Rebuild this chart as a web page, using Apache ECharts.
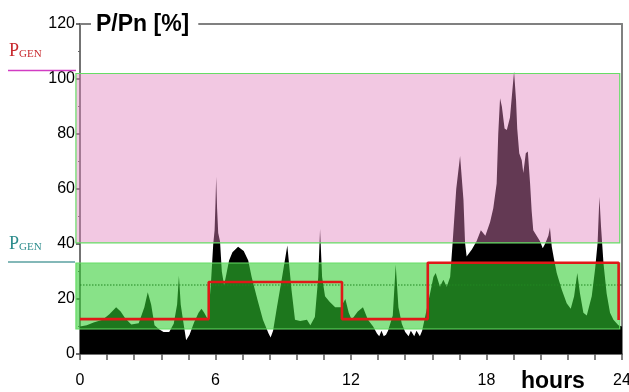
<!DOCTYPE html>
<html>
<head>
<meta charset="utf-8">
<script src="https://cdn.jsdelivr.net/npm/echarts@6/dist/echarts.min.js"></script>
<style>
  html, body { margin: 0; padding: 0; background: #fff; }
  #chart { width: 629px; height: 392px; }
</style>
</head>
<body>
<div id="chart"></div>
<script>
// Daily load profile, P/Pn in percent, sampled over 24 hours
const hours = [
  0.0, 0.3, 0.6, 1.0, 1.3, 1.6, 1.8, 2.0, 2.27, 2.6, 2.85, 3.0, 3.15, 3.3, 3.5, 3.7, 3.95,
  4.15, 4.3, 4.38, 4.46, 4.56, 4.7, 4.85, 5.05, 5.25, 5.38, 5.5, 5.67, 5.8, 5.9, 5.96, 6.0,
  6.03, 6.07, 6.12, 6.2, 6.28, 6.38, 6.48, 6.6, 6.75, 7.0, 7.25, 7.45, 7.6, 7.85, 8.1, 8.35,
  8.44, 8.55, 8.7, 8.95, 9.18, 9.37, 9.52, 9.75, 10.05, 10.2, 10.4, 10.55, 10.63, 10.72, 10.85,
  11.05, 11.3, 11.55, 11.75, 11.9, 12.03, 12.3, 12.53, 12.75, 12.98, 13.15, 13.25, 13.35, 13.45,
  13.55, 13.64, 13.85, 13.98, 14.1, 14.25, 14.4, 14.55, 14.65, 14.8, 14.9, 15.05, 15.15, 15.28,
  15.5, 15.65, 15.75, 15.94, 16.09, 16.24, 16.39, 16.5, 16.66, 16.83, 16.98, 17.05, 17.12, 17.35,
  17.56, 17.75, 17.95, 18.16, 18.3, 18.45, 18.52, 18.6, 18.68, 18.8, 18.9, 19.04, 19.12, 19.22,
  19.31, 19.36, 19.45, 19.56, 19.63, 19.74, 19.83, 19.93, 20.0, 20.07, 20.22, 20.37, 20.49,
  20.59, 20.74, 20.81, 20.89, 20.99, 21.11, 21.33, 21.55, 21.73, 21.88, 22.02, 22.14, 22.29,
  22.44, 22.66, 22.81, 22.92, 23.0, 23.07, 23.18, 23.32, 23.47, 23.62, 23.84, 24.0
];
const load = [
  10, 10.5, 11.5, 12.5, 14.5, 17, 15.5, 13, 10.7, 11.2, 17, 22.5, 18, 10.5, 9, 8, 8,
  11, 18, 28.5, 18, 12.5, 5, 7, 11.5, 15, 16.5, 15, 12.5, 26, 40, 45, 55,
  64.5, 53, 44, 41, 30, 25, 29, 34, 37, 39, 37.5, 34, 28, 20, 12.5, 7.5,
  6, 8.5, 16, 28, 39.5, 23, 12.5, 12, 12.5, 10.5, 13.5, 28, 45.5, 28, 21,
  19, 17, 17, 20, 15, 12.5, 15.5, 17, 12.5, 10, 7.5, 6.5, 8.5, 6.5,
  7, 8.5, 14, 32.5, 17, 11, 8, 6.5, 8.5, 6.5, 8.5, 6.5, 8.5, 13.5,
  22, 28, 29.5, 24.5, 27, 24.5, 28, 40.5, 60, 72, 56, 40.5, 35.5, 38,
  41, 45, 43, 48, 53, 62, 80, 93, 90, 82, 81.5, 86, 93.5, 102.7,
  92, 82, 73, 70.5, 65.8, 73, 73.6, 62, 52, 45, 43, 41, 38.5,
  40, 43, 46, 39, 34.5, 29.5, 23.5, 18.5, 16.5, 21, 29.5, 22, 15,
  14, 21, 31, 40.5, 57.2, 46.5, 33, 22, 15, 12.5, 10.5, 10
];

// Generator power schedule (step changes)
const stepHours = [0, 5.7, 11.6, 15.4, 23.85];
const stepValues = [12.7, 26.2, 12.7, 33.2, 12.4];

// Operating bands: [from hour, to hour, lower %, upper %]
const bandNames = ['upper', 'lower'];
const bandFrom = [-0.18, -0.18];
const bandTo = [23.9, 23.9];
const bandLow = [40.4, 9.1];
const bandHigh = [102, 33.1];

// Reference level drawn dotted
const refLevel = 25.1;

// Axis ticks
const xTickStep = 1.2;
const xLabelStep = 6;
const yTicks = [0, 20, 40, 60, 80, 100, 120];

const loadData = hours.map((h, i) => [h, load[i]]);
const stepData = stepHours.map((h, i) => [h, stepValues[i]]);
const bandData = bandNames.map((n, i) => [bandFrom[i], bandTo[i], bandLow[i], bandHigh[i], i]);
const bandFill = ['rgba(226,130,188,0.44)', 'rgba(50,205,50,0.58)'];

const chart = echarts.init(document.getElementById('chart'), null, { renderer: 'canvas' });

const font = 'Liberation Sans, Arial, sans-serif';
const serif = 'Liberation Serif, Times New Roman, serif';

chart.setOption({
  animation: false,
  backgroundColor: '#ffffff',
  title: {
    text: 'P/Pn [%]',
    left: 91,
    top: 12,
    padding: [1, 9, 1, 5],
    backgroundColor: '#ffffff',
    textStyle: { fontFamily: font, fontSize: 23, fontWeight: 'bold', color: '#000' }
  },
  grid: { left: 80, right: 7, top: 24, bottom: 38, containLabel: false, outerBoundsMode: 'none' },
  xAxis: [
    {
      type: 'value', min: 0, max: 24, interval: xTickStep,
      axisLine: { show: true, onZero: false, lineStyle: { color: '#444', width: 1.5 } },
      axisTick: { show: true, inside: false, length: 6, lineStyle: { color: '#555', width: 1.5 } },
      splitLine: { show: false },
      axisLabel: {
        margin: 19, fontFamily: font, fontSize: 16, color: '#000',
        showMaxLabel: true, showMinLabel: true, hideOverlap: false,
        formatter: v => {
          const k = Math.round(v / xLabelStep);
          return Math.abs(v - k * xLabelStep) < 1e-6 ? String(k * xLabelStep) : '';
        }
      }
    },
    {
      type: 'value', min: 0, max: 24, position: 'top',
      axisLine: { show: true, onZero: false, lineStyle: { color: '#808080', width: 2 } },
      axisTick: { show: false }, axisLabel: { show: false }, splitLine: { show: false }
    }
  ],
  yAxis: [
    {
      type: 'value', min: 0, max: 120, interval: 20,
      axisLine: { show: true, onZero: false, lineStyle: { color: '#444', width: 1.5 } },
      axisTick: { show: true, length: 4, lineStyle: { color: '#444', width: 1.5 } },
      minorTick: { show: true, splitNumber: 2, length: 2, lineStyle: { color: '#666' } },
      splitLine: { show: false },
      axisLabel: {
        margin: 5, fontFamily: font, fontSize: 16, color: '#000',
        formatter: v => (yTicks.indexOf(v) >= 0 ? String(v) : '')
      }
    },
    {
      type: 'value', min: 0, max: 120, position: 'right',
      axisLine: { show: true, onZero: false, lineStyle: { color: '#808080', width: 2 } },
      axisTick: { show: false }, axisLabel: { show: false }, splitLine: { show: false }
    }
  ],
  series: [
    {
      name: 'load',
      type: 'line',
      data: loadData,
      symbol: 'none',
      z: 1,
      lineStyle: { width: 0 },
      areaStyle: { color: '#000000', opacity: 1 }
    },
    {
      name: 'reference',
      type: 'line',
      data: [[0, refLevel], [24, refLevel]],
      symbol: 'none',
      z: 2,
      lineStyle: { color: '#0a2a0a', width: 1.2, type: [1.5, 1.5] }
    },
    {
      name: 'bands',
      type: 'custom',
      clip: false,
      z: 3,
      data: bandData,
      renderItem: (params, api) => {
        const p0 = api.coord([api.value(0), api.value(3)]);
        const p1 = api.coord([api.value(1), api.value(2)]);
        const idx = api.value(4);
        return {
          type: 'rect',
          shape: { x: p0[0], y: p0[1], width: p1[0] - p0[0], height: p1[1] - p0[1] },
          style: { fill: bandFill[idx], stroke: '#66dd66', lineWidth: 1.2 }
        };
      }
    },
    {
      name: 'generator',
      type: 'line',
      data: stepData,
      step: 'end',
      symbol: 'none',
      z: 4,
      lineStyle: { color: '#e01818', width: 2.6 }
    }
  ],
  graphic: [
    {
      type: 'text', left: 9, top: 42, z: 10,
      style: {
        text: '{p|P}{s|GEN}',
        rich: {
          p: { fontFamily: serif, fontSize: 18, fill: '#c8282d', verticalAlign: 'bottom' },
          s: { fontFamily: serif, fontSize: 11, fill: '#c8282d', padding: [6, 0, 0, 0], verticalAlign: 'bottom' }
        }
      }
    },
    {
      type: 'line', z: 10,
      shape: { x1: 8, y1: 70.5, x2: 76, y2: 70.5 },
      style: { stroke: '#d23cc3', lineWidth: 1.5 }
    },
    {
      type: 'text', left: 9, top: 235, z: 10,
      style: {
        text: '{p|P}{s|GEN}',
        rich: {
          p: { fontFamily: serif, fontSize: 18, fill: '#2c8c8c', verticalAlign: 'bottom' },
          s: { fontFamily: serif, fontSize: 11, fill: '#2c8c8c', padding: [6, 0, 0, 0], verticalAlign: 'bottom' }
        }
      }
    },
    {
      type: 'line', z: 10,
      shape: { x1: 8, y1: 262, x2: 75, y2: 262 },
      style: { stroke: '#5aa0a0', lineWidth: 1.5 }
    },
    {
      type: 'text', left: 521, top: 370, z: 10,
      style: { text: 'hours', fontFamily: font, fontSize: 23, fontWeight: 'bold', fill: '#000' }
    }
  ]
});
</script>
</body>
</html>
